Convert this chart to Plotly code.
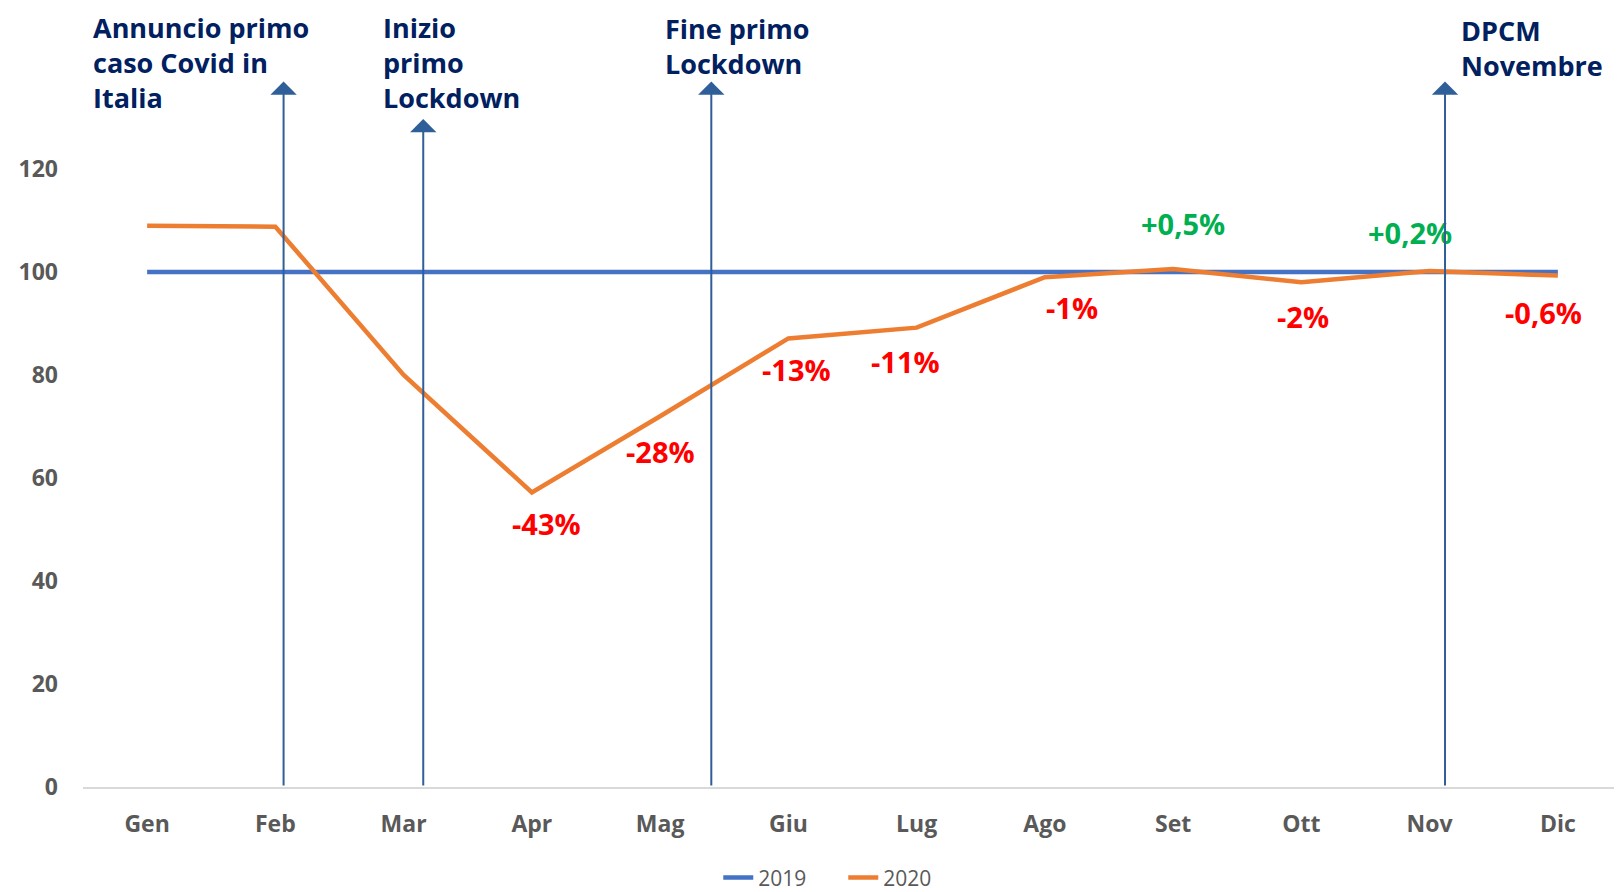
import plotly.graph_objects as go

months = ["Gen", "Feb", "Mar", "Apr", "Mag", "Giu", "Lug", "Ago", "Set", "Ott", "Nov", "Dic"]
values_2019 = [100, 100, 100, 100, 100, 100, 100, 100, 100, 100, 100, 100]
values_2020 = [109.0, 108.8, 80.0, 57.2, 72.0, 87.1, 89.2, 99.0, 100.6, 98.0, 100.2, 99.3]

pct_labels = ["", "", "", "-43%", "-28%", "-13%", "-11%", "-1%", "+0,5%", "-2%", "+0,2%", "-0,6%"]
pct_dx = [0, 0, 0, 15, 0, 8, -11, 27, 10, 2, -20, -14]
pct_dy = [0, 0, 0, -31, -35, -31, -34, -30, 45, -34, 38, -37]

event_names = ["Annuncio primo<br>caso Covid in<br>Italia", "Inizio<br>primo<br>Lockdown",
               "Fine primo<br>Lockdown", "DPCM<br>Novembre"]
event_x = [1.064, 2.153, 4.399, 10.12]
event_top = [137.0, 129.7, 137.0, 137.0]
event_text_dx = [-193, -42, -48, 14]
event_text_top = [1.082, 1.082, 1.080, 1.077]

x_idx = list(range(len(months)))

fig = go.Figure()
fig.add_trace(go.Scatter(x=x_idx, y=values_2019, mode="lines", name="2019",
                         line=dict(color="#4472C4", width=4.5)))
fig.add_trace(go.Scatter(x=x_idx, y=values_2020, mode="lines", name="2020",
                         line=dict(color="#ED7D31", width=4.5)))

annotations = []
for i, lab in enumerate(pct_labels):
    if not lab:
        continue
    color = "#00B050" if lab.startswith("+") else "#FF0000"
    annotations.append(dict(x=x_idx[i], y=values_2020[i], xref="x", yref="y", text=lab,
                            showarrow=False, xshift=pct_dx[i], yshift=pct_dy[i],
                            font=dict(family="Open Sans", size=29, color=color, weight="bold")))

for name, ex, et, tdx, tt in zip(event_names, event_x, event_top, event_text_dx, event_text_top):
    annotations.append(dict(x=ex, y=tt, xref="x", yref="paper", text=name, showarrow=False,
                            xanchor="left", yanchor="top", align="left", xshift=tdx,
                            font=dict(family="Open Sans", size=27, color="#002060", weight="bold")))
    annotations.append(dict(x=ex, y=et, ax=ex, ay=0, xref="x", yref="y", axref="x", ayref="y",
                            text="", showarrow=True, arrowhead=1, arrowsize=2.2, arrowwidth=2,
                            arrowcolor="#2F5F98", standoff=0, startstandoff=0))

# page body has an 8px margin, so the figure is sized to fill the rest of the window
fig.update_layout(
    width=1614, height=884,
    margin=dict(l=75, r=0, t=58, b=105, autoexpand=False),
    plot_bgcolor="white", paper_bgcolor="white",
    showlegend=True,
    legend=dict(orientation="h", x=0.494, xanchor="center", y=-0.126, yanchor="middle",
                entrywidth=80, font=dict(family="Open Sans", size=21, color="#595959")),
    annotations=annotations,
    font=dict(family="Open Sans"),
)
fig.update_xaxes(range=[-0.5, 11.5], tickvals=x_idx, ticktext=months, showgrid=False, zeroline=False,
                 showline=True, linecolor="#D9D9D9", linewidth=2, ticks="", ticklabelstandoff=15,
                 automargin=False,
                 tickfont=dict(family="Open Sans", size=23, color="#595959", weight="bold"))
fig.update_yaxes(range=[0, 140], tickvals=[0, 20, 40, 60, 80, 100, 120], showgrid=False, zeroline=False,
                 showline=False, ticks="", ticklabelstandoff=24, automargin=False,
                 tickfont=dict(family="Open Sans", size=23, color="#595959", weight="bold"))

fig.write_html("out.html")
